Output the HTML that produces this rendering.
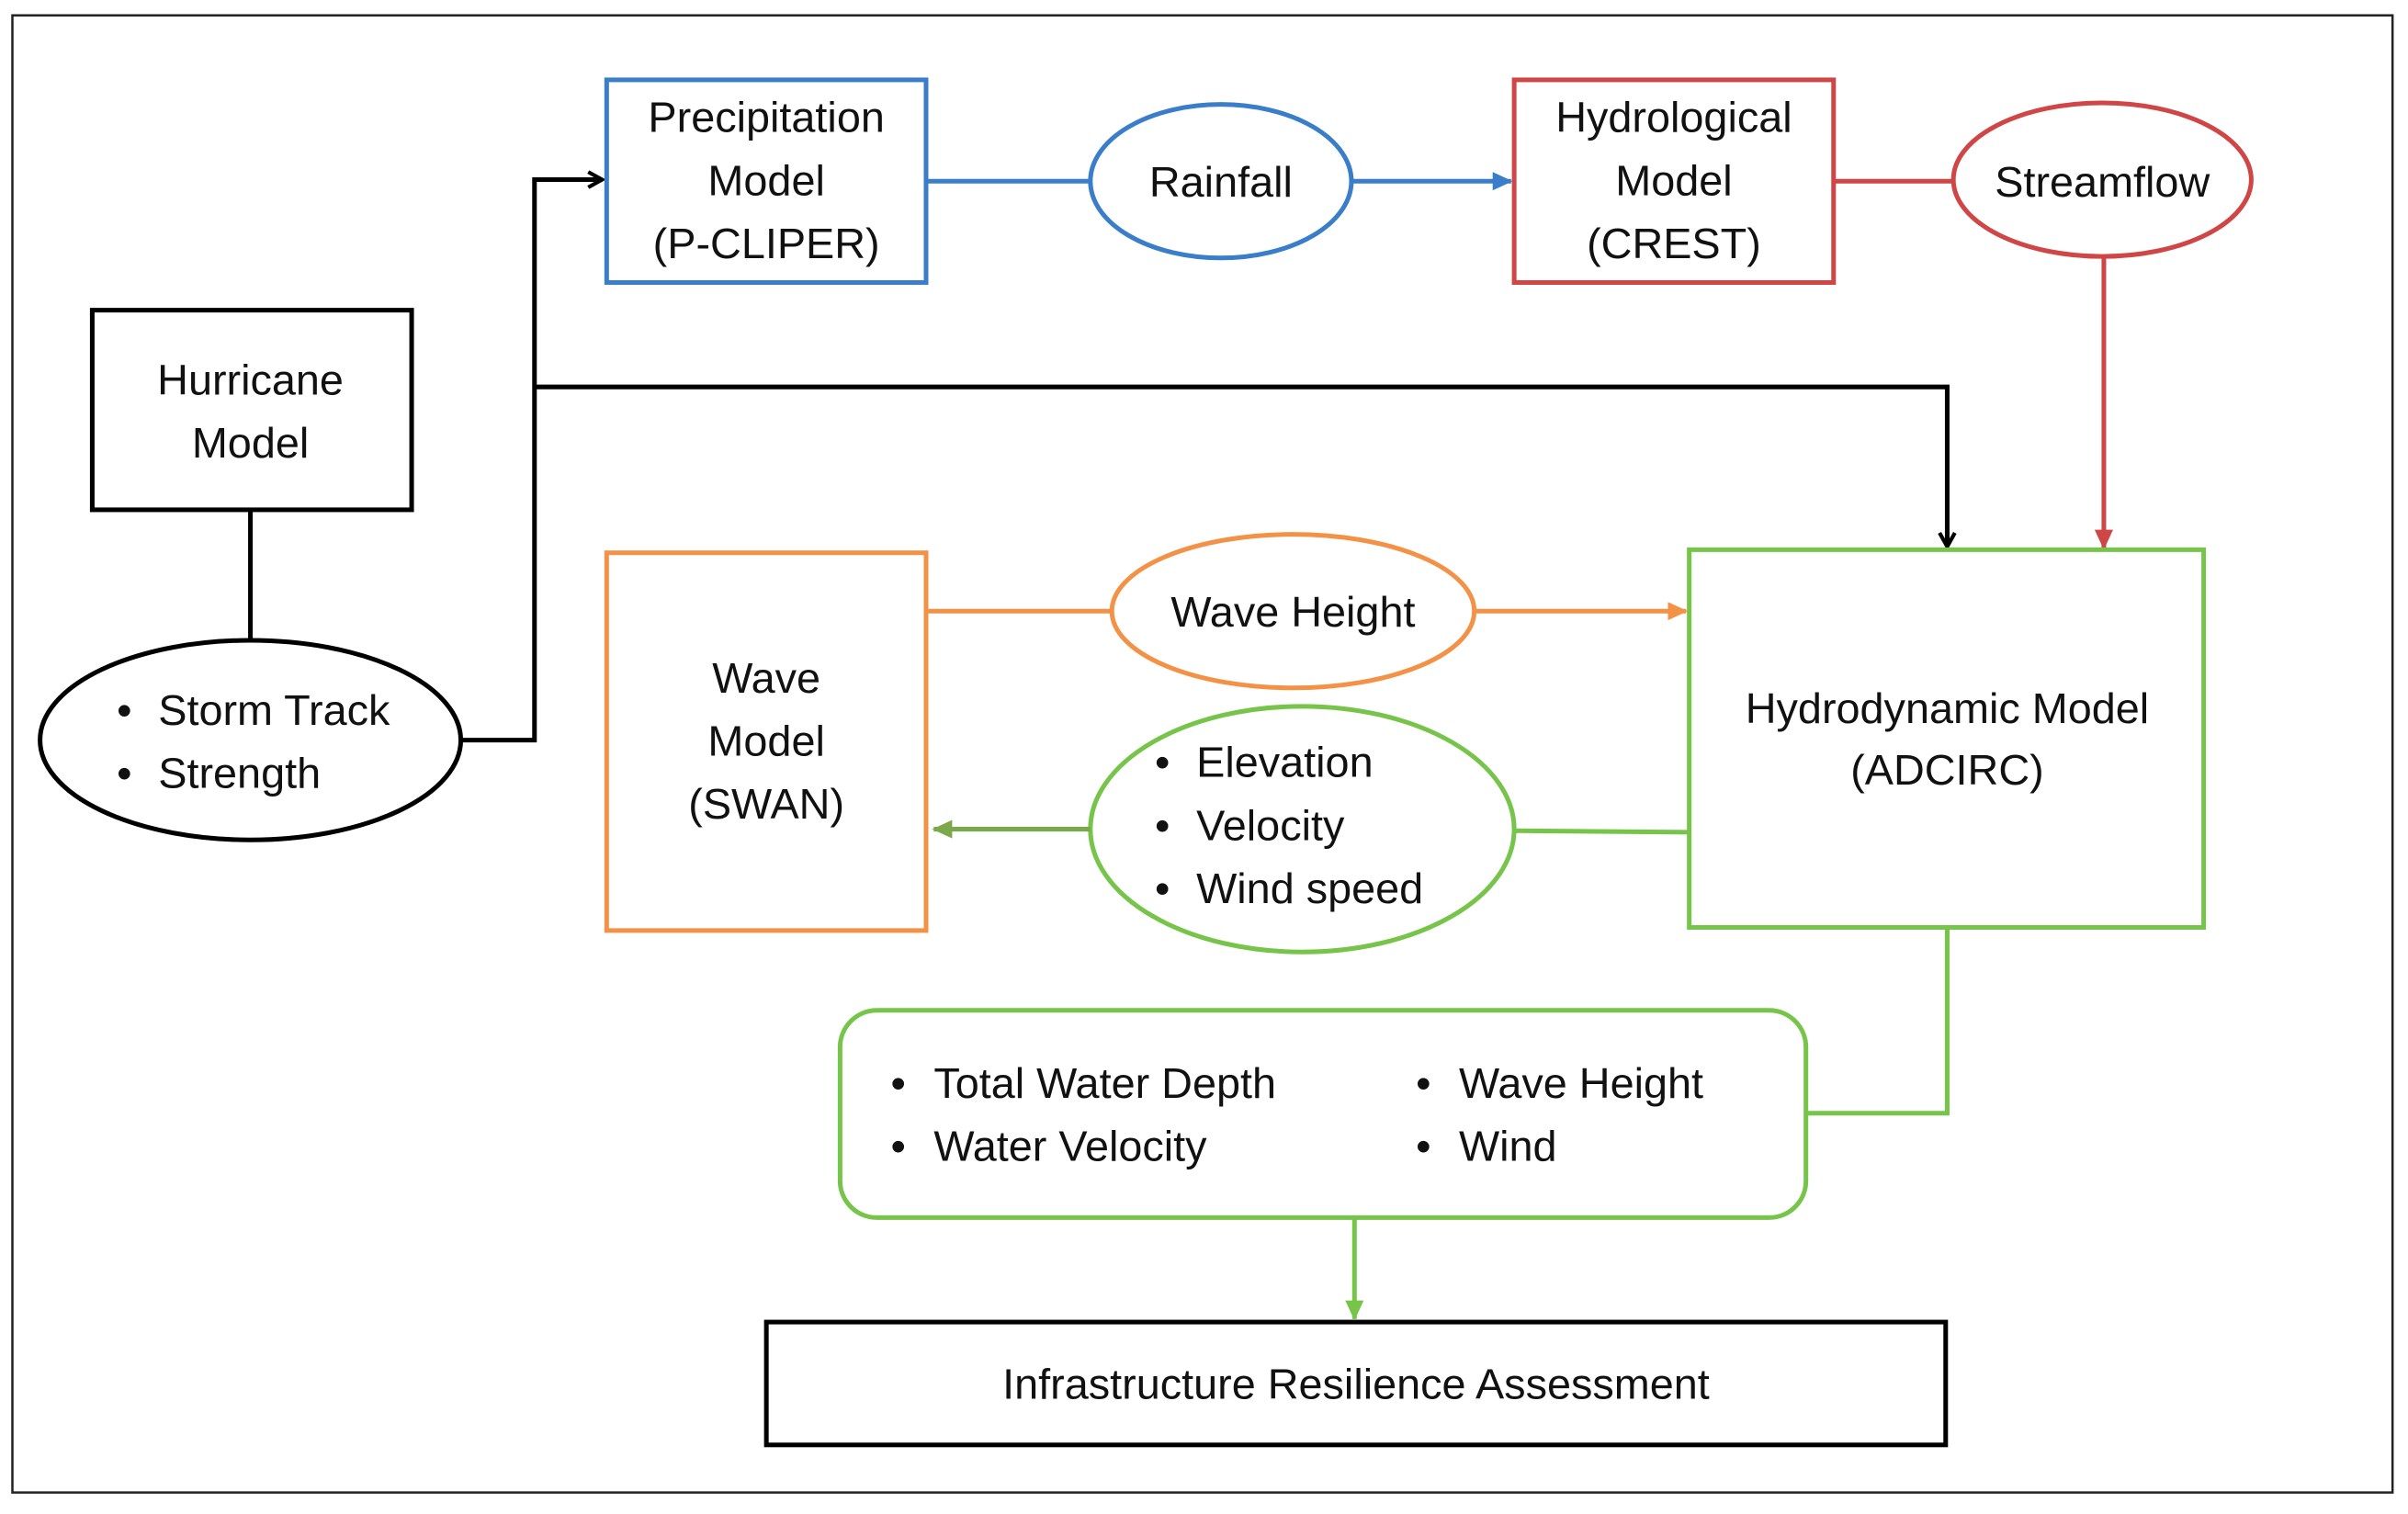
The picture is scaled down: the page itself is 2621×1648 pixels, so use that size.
<!DOCTYPE html>
<html><head><meta charset="utf-8"><style>
html,body{margin:0;padding:0;background:#fff;}
svg{display:block;}
text{font-family:"Liberation Sans",sans-serif;font-size:28px;fill:#111;}
</style></head><body>
<svg width="2621" height="1648" viewBox="0 0 1568 986" xmlns="http://www.w3.org/2000/svg">
<defs>
<marker id="ak" markerWidth="12" markerHeight="12" refX="10" refY="6" orient="auto" markerUnits="userSpaceOnUse"><path d="M1,1 L10,6 L1,11" fill="none" stroke="#000" stroke-width="2.5"/></marker>
<marker id="ab" markerWidth="14" markerHeight="14" refX="12" refY="7" orient="auto" markerUnits="userSpaceOnUse"><path d="M0,1 L13,7 L0,13 Z" fill="#3a7dc9"/></marker>
<marker id="ar" markerWidth="14" markerHeight="14" refX="12" refY="7" orient="auto" markerUnits="userSpaceOnUse"><path d="M0,1 L13,7 L0,13 Z" fill="#d04545"/></marker>
<marker id="ao" markerWidth="14" markerHeight="14" refX="12" refY="7" orient="auto" markerUnits="userSpaceOnUse"><path d="M0,1 L13,7 L0,13 Z" fill="#f39246"/></marker>
<marker id="ag" markerWidth="14" markerHeight="14" refX="12" refY="7" orient="auto" markerUnits="userSpaceOnUse"><path d="M0,1 L13,7 L0,13 Z" fill="#77c44a"/></marker>
<marker id="ag2" markerWidth="14" markerHeight="14" refX="12" refY="7" orient="auto" markerUnits="userSpaceOnUse"><path d="M0,1 L13,7 L0,13 Z" fill="#7aa84a"/></marker>
</defs>
<rect x="8" y="10" width="1550" height="962" fill="none" stroke="#222" stroke-width="1.5"/>
<g fill="none" stroke-width="3">
<rect x="60" y="202" width="208" height="130" stroke="#000"/>
<line x1="163" y1="332" x2="163" y2="417" stroke="#000"/>
<ellipse cx="163" cy="482" rx="137" ry="65" stroke="#000"/>
<polyline points="300,482 348,482 348,117 392,117" stroke="#000" marker-end="url(#ak)"/>
<polyline points="348,252 1268,252 1268,356" stroke="#000" marker-end="url(#ak)"/>
<rect x="499" y="861" width="768" height="80" stroke="#000"/>
<rect x="395" y="52" width="208" height="132" stroke="#3a7dc9"/>
<line x1="603" y1="118" x2="710" y2="118" stroke="#3a7dc9"/>
<ellipse cx="795" cy="118" rx="85" ry="50" stroke="#3a7dc9"/>
<line x1="880" y1="118" x2="984" y2="118" stroke="#3a7dc9" marker-end="url(#ab)"/>
<rect x="986" y="52" width="208" height="132" stroke="#d04545"/>
<line x1="1194" y1="118" x2="1272" y2="118" stroke="#d04545"/>
<ellipse cx="1369" cy="117" rx="97" ry="50" stroke="#d04545"/>
<line x1="1370" y1="167" x2="1370" y2="357" stroke="#d04545" marker-end="url(#ar)"/>
<rect x="395" y="360" width="208" height="246" stroke="#f39246"/>
<line x1="603" y1="398" x2="724" y2="398" stroke="#f39246"/>
<ellipse cx="842" cy="398" rx="118" ry="50" stroke="#f39246"/>
<line x1="960" y1="398" x2="1098" y2="398" stroke="#f39246" marker-end="url(#ao)"/>
<rect x="1100" y="358" width="335" height="246" stroke="#77c44a"/>
<ellipse cx="848" cy="540" rx="138" ry="80" stroke="#77c44a"/>
<line x1="1100" y1="542" x2="987" y2="541" stroke="#77c44a"/>
<line x1="710" y1="540" x2="608" y2="540" stroke="#7aa84a" marker-end="url(#ag2)"/>
<polyline points="1268,604 1268,725 1176,725" stroke="#77c44a"/>
<rect x="547" y="658" width="629" height="135" rx="24" stroke="#77c44a"/>
<line x1="882" y1="793" x2="882" y2="859" stroke="#77c44a" marker-end="url(#ag)"/>
</g>
<g text-anchor="middle">
<text x="163" y="257">Hurricane</text>
<text x="163" y="298">Model</text>
<text x="499" y="86">Precipitation</text>
<text x="499" y="127">Model</text>
<text x="499" y="168">(P-CLIPER)</text>
<text x="795" y="128">Rainfall</text>
<text x="1090" y="86">Hydrological</text>
<text x="1090" y="127">Model</text>
<text x="1090" y="168">(CREST)</text>
<text x="1369" y="128">Streamflow</text>
<text x="499" y="451">Wave</text>
<text x="499" y="492">Model</text>
<text x="499" y="533">(SWAN)</text>
<text x="842" y="408">Wave Height</text>
<text x="1268" y="471">Hydrodynamic Model</text>
<text x="1268" y="511">(ADCIRC)</text>
<text x="883" y="911">Infrastructure Resilience Assessment</text>
</g>
<g>
<text x="76" y="472">•</text><text x="103" y="472">Storm Track</text>
<text x="76" y="513">•</text><text x="103" y="513">Strength</text>
<text x="752" y="506">•</text><text x="779" y="506">Elevation</text>
<text x="752" y="547">•</text><text x="779" y="547">Velocity</text>
<text x="752" y="588">•</text><text x="779" y="588">Wind speed</text>
<text x="580" y="715">•</text><text x="608" y="715">Total Water Depth</text>
<text x="580" y="756">•</text><text x="608" y="756">Water Velocity</text>
<text x="922" y="715">•</text><text x="950" y="715">Wave Height</text>
<text x="922" y="756">•</text><text x="950" y="756">Wind</text>
</g>
</svg>
</body></html>
